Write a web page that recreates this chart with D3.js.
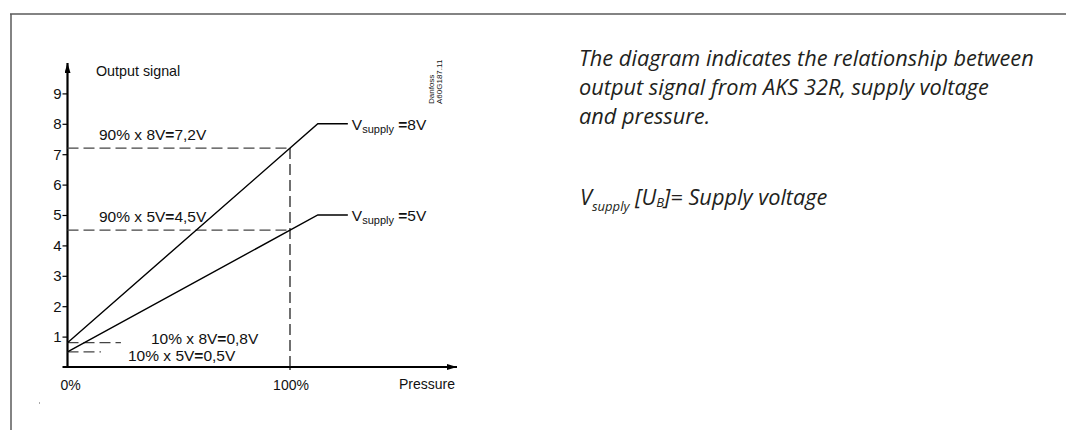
<!DOCTYPE html>
<html>
<head>
<meta charset="utf-8">
<script src="https://cdn.jsdelivr.net/npm/d3@7"></script>
<style>
body{margin:0;background:#fff;}
svg{display:block;}
.chart text{font-family:"Liberation Sans",Arial,sans-serif;fill:#111;}
.note text{font-family:"Open Sans","Noto Sans",sans-serif;font-style:italic;fill:#231f20;}
</style>
</head>
<body>
<svg id="svg_canvas" width="1066" height="430"></svg>
<script>
// values
var y_ticks=[1,2,3,4,5,6,7,8,9];
var pressure_pct=[0,112.5,126];          // start, knee, end of each supply line
var out_8v=[0.8,8,8];
var out_5v=[0.5,5,5];
var full_out=[7.2,4.5];                   // 90% of supply at 100% pressure
var full_labels=[["90% x 8V","7,2V"],["90% x 5V","4,5V"]];
var zero_out=[0.8,0.5];                   // 10% of supply at 0% pressure
var zero_labels=[["10% x 8V","0,8V"],["10% x 5V","0,5V"]];
var supply_names=["8V","5V"];
var x_labels=["0%","100%"];
var note_lines=["The diagram indicates the relationship between","output signal from AKS 32R, supply voltage","and pressure."];

var svg=d3.select("#svg_canvas");

// frame
svg.append("line").attr("x1",10).attr("x2",1066).attr("y1",14).attr("y2",14)
	.attr("stroke","#5a5a5a").attr("stroke-width",1.5);
svg.append("line").attr("x1",11).attr("x2",11).attr("y1",14).attr("y2",430)
	.attr("stroke","#5a5a5a").attr("stroke-width",1.5);
svg.append("rect").attr("x",39).attr("y",402.5).attr("width",1).attr("height",1).attr("fill","#555");

var defs=svg.append("defs");
defs.append("marker").attr("id","to_arrow").attr("viewBox","0 0 10 6")
	.attr("refX",10).attr("refY",3).attr("markerUnits","userSpaceOnUse")
	.attr("markerWidth",12).attr("markerHeight",6).attr("orient","auto")
	.append("path").attr("d","M0,0 L10,3 L0,6 Z").attr("fill","#000");

var x=d3.scaleLinear().domain([0,100]).range([67.5,290]);
var y=d3.scaleLinear().domain([0,9]).range([367,93.4]);

var g=svg.append("g").attr("class","chart");

// y axis with ticks on the left
var y_axis=d3.axisLeft(y).tickValues(y_ticks).tickSize(5).tickPadding(1).tickFormat(d3.format("d"));
var ya=g.append("g").attr("transform","translate("+x(0)+",0)").call(y_axis)
	.attr("font-size",null).attr("font-family",null);
ya.select(".domain").remove();
ya.selectAll(".tick line").attr("stroke","#000").attr("stroke-width",1.2);
ya.selectAll(".tick text").style("font-size","15px").attr("fill","#111");

// axis lines with arrows
g.append("line").attr("x1",x(0)).attr("x2",x(0)).attr("y1",y(0)).attr("y2",63)
	.attr("stroke","#000").attr("stroke-width",2.2).attr("marker-end","url(#to_arrow)");
g.append("line").attr("x1",x(0)-5).attr("x2",457).attr("y1",y(0)).attr("y2",y(0))
	.attr("stroke","#000").attr("stroke-width",2.2).attr("marker-end","url(#to_arrow)");
g.append("line").attr("x1",x(100)).attr("x2",x(100)).attr("y1",y(0)).attr("y2",y(0)+3)
	.attr("stroke","#000").attr("stroke-width",1.2);

// dashed guides at 100% pressure
g.selectAll(".full_guide").data(full_out).enter().append("path")
	.attr("class","full_guide")
	.attr("d",function(d){return "M"+x(0)+","+y(d)+"H"+x(100);})
	.attr("fill","none").attr("stroke","#444").attr("stroke-width",1.2).attr("stroke-dasharray","11,5");
g.append("line").attr("x1",x(100)).attr("x2",x(100)).attr("y1",y(d3.max(full_out))).attr("y2",y(0))
	.attr("stroke","#111").attr("stroke-width",1.2).attr("stroke-dasharray","11,5");

// dashed guides at 0% pressure
var zero_len=[24,15];
g.selectAll(".zero_guide").data(zero_out).enter().append("path")
	.attr("class","zero_guide")
	.attr("d",function(d,i){return "M"+x(0)+","+y(d)+"H"+x(zero_len[i]);})
	.attr("fill","none").attr("stroke","#444").attr("stroke-width",1.2).attr("stroke-dasharray","11,5");

// supply lines
var line=d3.line().x(function(d){return x(d[0]);}).y(function(d){return y(d[1]);});
[out_8v,out_5v].forEach(function(vals){
	g.append("path").datum(d3.zip(pressure_pct,vals)).attr("d",line)
		.attr("fill","none").attr("stroke","#000").attr("stroke-width",1.4);
});

// "a=b" label with a heavier equals sign
function eq_label(sel,parts){
	sel.append("tspan").text(parts[0]);
	sel.append("tspan").attr("font-weight","bold").text("=");
	sel.append("tspan").text(parts[1]);
}

// labels
g.selectAll(".full_label").data(full_labels).enter().append("text")
	.attr("x",99).attr("y",function(d,i){return y(full_out[i])-8;})
	.attr("font-size",15.5).each(function(d){eq_label(d3.select(this),d);});
var zero_x=[151,128],zero_y=[344,361];
g.selectAll(".zero_label").data(zero_labels).enter().append("text")
	.attr("x",function(d,i){return zero_x[i];})
	.attr("y",function(d,i){return zero_y[i];})
	.attr("font-size",15.5).each(function(d){eq_label(d3.select(this),d);});

var supply_levels=[out_8v[2],out_5v[2]];
supply_names.forEach(function(name,i){
	var t=g.append("text").attr("x",x(pressure_pct[2])+4).attr("y",y(supply_levels[i])+6).attr("font-size",15.5);
	t.append("tspan").text("V");
	t.append("tspan").attr("font-size",11).attr("dy",3).text("supply");
	t.append("tspan").attr("dy",-3).text(" ");
	t.append("tspan").attr("font-weight","bold").text("=");
	t.append("tspan").text(name);
});

g.append("text").attr("x",96).attr("y",76).attr("font-size",14.3).text("Output signal");
g.selectAll(".x_label").data(x_labels).enter().append("text")
	.attr("x",function(d,i){return x(i*100)+(i==0?3:1);}).attr("y",390)
	.attr("text-anchor","middle").attr("font-size",14).text(function(d){return d;});
g.append("text").attr("x",455).attr("y",389).attr("text-anchor","end").attr("font-size",14).text("Pressure");

// drawing number, rotated
var ref=g.append("text").attr("transform","translate(434,104) rotate(-90)").attr("font-size",8).attr("fill","#222");
ref.append("tspan").attr("x",0).attr("dy",0).text("Danfoss");
ref.append("tspan").attr("x",0).attr("dy",8).text("A60G187.11");

// note on the right
var note=svg.append("g").attr("class","note");
var note_size=20;
var lines=note.selectAll(".note_line").data(note_lines).enter().append("text")
	.attr("x",579).attr("y",function(d,i){return 66+i*29;})
	.attr("font-size",note_size).text(function(d){return d;});
var w=lines.nodes()[0].getComputedTextLength();
note_size=note_size*455/w;
lines.attr("font-size",note_size);

var sv=note.append("text").attr("x",580).attr("y",205).attr("font-size",note_size);
sv.append("tspan").text("V");
sv.append("tspan").attr("font-size",note_size*0.6).attr("dy",6).text("supply");
sv.append("tspan").attr("dy",-6).text(" [U");
sv.append("tspan").attr("font-size",note_size*0.6).attr("dy",2).text("B");
sv.append("tspan").attr("dy",-2).text("]= Supply voltage");
</script>
</body>
</html>
